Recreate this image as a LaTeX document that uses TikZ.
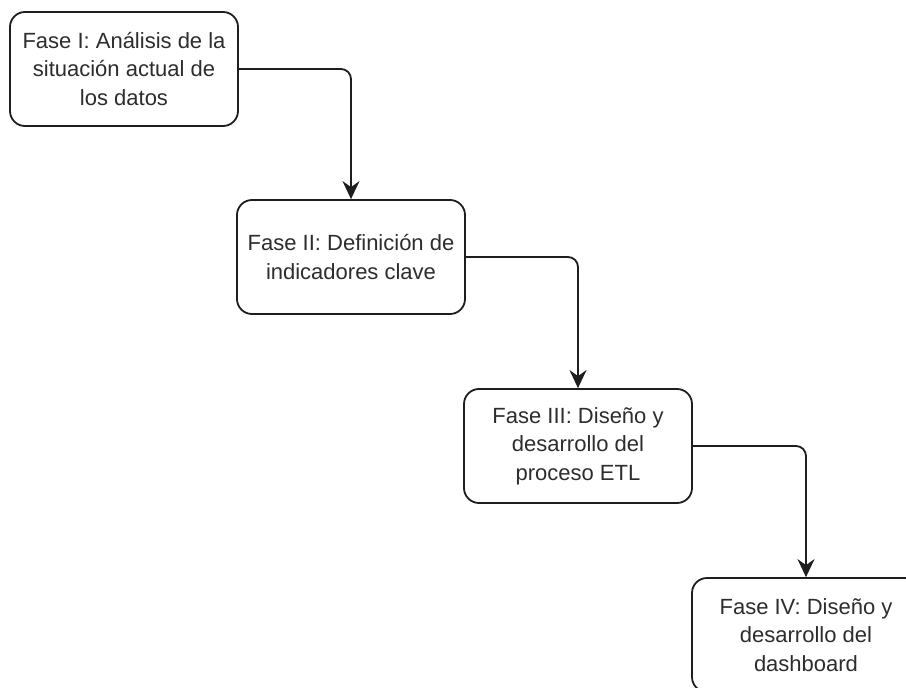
\documentclass[tikz,border=0pt]{standalone}
\usepackage{fontspec}
\setmainfont{Liberation Sans}
\usetikzlibrary{arrows.meta}
\definecolor{ink}{RGB}{30,30,30}
\definecolor{label}{RGB}{45,45,45}
\begin{document}
\begin{tikzpicture}[x=1pt,y=-1pt,
  phase/.style={draw=ink, line width=1.8pt, rounded corners=15pt,
    minimum width=228pt, minimum height=114pt, align=center,
    text=label, font=\fontsize{22}{28.5}\selectfont, inner sep=0pt},
  flow/.style={draw=ink, line width=1.8pt, rounded corners=10pt,
    -{Stealth[length=18pt,width=17pt,inset=6pt]}}]
  \clip (0,0) rectangle (906,688);
  \fill[white] (0,0) rectangle (906,688);

  \node[phase] (f1) at (124,69) {Fase I: Análisis de la\\situación actual de\\los datos};
  \node[phase] (f2) at (351,257) {Fase II: Definición de\\indicadores clave};
  \node[phase] (f3) at (578,446) {Fase III: Diseño y\\desarrollo del\\proceso ETL};
  \node[phase] (f4) at (806,635) {Fase IV: Diseño y\\desarrollo del\\dashboard};

  \draw[flow] (f1.east) -| (f2.north);
  \draw[flow] (f2.east) -| (f3.north);
  \draw[flow] (f3.east) -| (f4.north);
\end{tikzpicture}
\end{document}
